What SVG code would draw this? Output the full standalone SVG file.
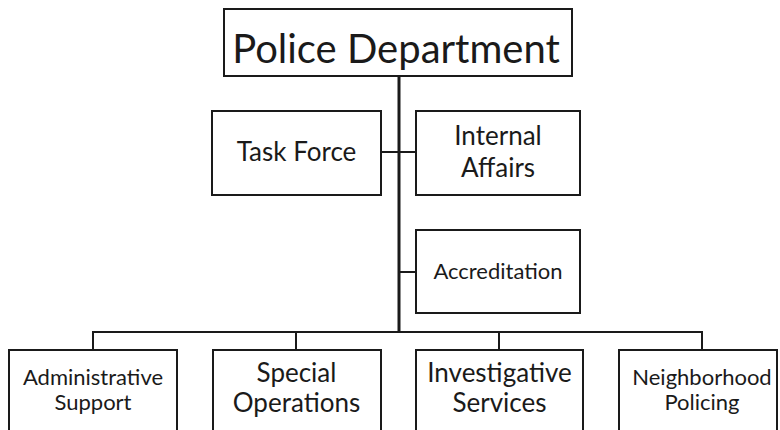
<svg xmlns="http://www.w3.org/2000/svg" width="780" height="430" viewBox="0 0 780 430">
<style>
.box{fill:#fff;stroke:#1a1a1a;stroke-width:2}
.t{font-family:Lato,"Liberation Sans",sans-serif;fill:#1a1a1a;text-anchor:middle}
.m{font-size:26px}
.s{font-size:22px}
.c{stroke:#1a1a1a;stroke-width:2;fill:none}
</style>
<rect width="780" height="430" fill="#fff"/>
<g id="connectors">
<line class="c" x1="399" y1="76" x2="399" y2="333" style="stroke-width:3"/>
<line class="c" x1="381" y1="152" x2="416" y2="152"/>
<line class="c" x1="399" y1="272" x2="416" y2="272"/>
<polyline class="c" points="93,350 93,332 702,332 702,350"/>
<line class="c" x1="296" y1="332" x2="296" y2="350"/>
<line class="c" x1="499" y1="332" x2="499" y2="350"/>
</g>
<g id="police">
<rect class="box" x="224" y="9" width="348" height="67"/>
<text class="t" x="396" y="63" font-size="40">Police Department</text>
</g>
<g id="taskforce">
<rect class="box" x="212" y="111" width="169" height="84"/>
<text class="t m" x="296.5" y="161">Task Force</text>
</g>
<g id="internal">
<rect class="box" x="416" y="111" width="164" height="84"/>
<text class="t m" x="498" y="145">Internal</text>
<text class="t m" x="498" y="177">Affairs</text>
</g>
<g id="accreditation">
<rect class="box" x="416" y="230" width="164" height="83"/>
<text class="t s" x="498" y="279">Accreditation</text>
</g>
<g id="admin">
<rect class="box" x="9" y="350" width="168" height="90"/>
<text class="t s" x="93" y="385">Administrative</text>
<text class="t s" x="93" y="410">Support</text>
</g>
<g id="special">
<rect class="box" x="213" y="350" width="168" height="90"/>
<text class="t m" x="296.5" y="382">Special</text>
<text class="t m" x="296.5" y="412">Operations</text>
</g>
<g id="investigative">
<rect class="box" x="416" y="350" width="167" height="90"/>
<text class="t m" x="499.5" y="382">Investigative</text>
<text class="t m" x="499.5" y="412">Services</text>
</g>
<g id="neighborhood">
<rect class="box" x="619" y="350" width="158" height="90"/>
<text class="t s" x="702" y="385">Neighborhood</text>
<text class="t s" x="702" y="410">Policing</text>
</g>
</svg>
